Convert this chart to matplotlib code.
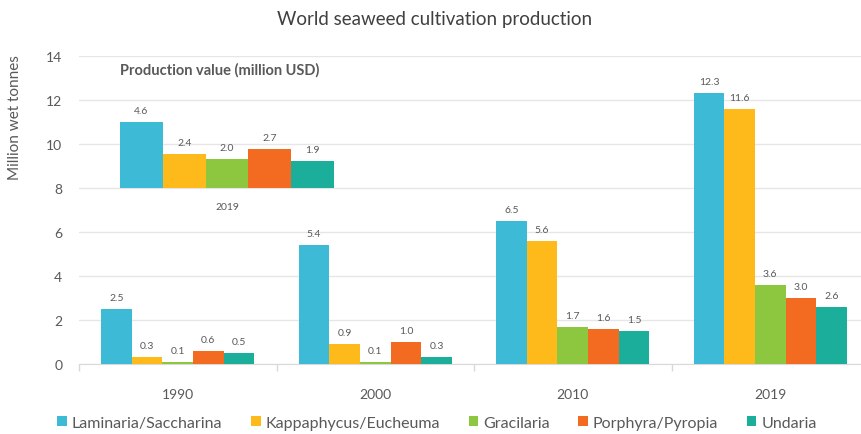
import numpy as np
import matplotlib
matplotlib.use("Agg")
import matplotlib.pyplot as plt
from matplotlib.patches import Patch

plt.rcParams['font.family'] = ['Lato', 'DejaVu Sans']

# data
years = ['1990', '2000', '2010', '2019']
species = ['Laminaria/Saccharina', 'Kappaphycus/Eucheuma', 'Gracilaria',
           'Porphyra/Pyropia', 'Undaria']
laminaria = [2.5, 5.4, 6.5, 12.3]
kappaphycus = [0.3, 0.9, 5.6, 11.6]
gracilaria = [0.1, 0.1, 1.7, 3.6]
porphyra = [0.6, 1.0, 1.6, 3.0]
undaria = [0.5, 0.3, 1.5, 2.6]
value_2019 = [4.6, 2.4, 2.0, 2.7, 1.9]  # production value, million USD

colors = ['#3DBAD6', '#FDBA1A', '#8DC63F', '#F36A21', '#1AAE9B']
text_col = '#595959'

series = [laminaria, kappaphycus, gracilaria, porphyra, undaria]

fig = plt.figure(figsize=(8.61, 4.35), dpi=100)
ax = fig.add_axes([79/861, 1 - 365/435, 790/861, 308/435])

x = np.arange(len(years))
bw = 0.155
for i, (vals, c) in enumerate(zip(series, colors)):
    pos = x + (i - 2) * bw
    bars = ax.bar(pos, vals, width=bw, color=c, zorder=3, linewidth=0)
    for b, v in zip(bars, vals):
        ax.annotate(f'{v:.1f}', (b.get_x() + b.get_width() / 2, v),
                    xytext=(0, 5), textcoords='offset points',
                    ha='center', va='bottom', fontsize=7.5, color=text_col)

ax.set_xlim(-0.5, 3.5)
ax.set_ylim(0, 14)
ax.set_yticks(range(0, 15, 2))
ax.set_xticks(x)
ax.set_xticklabels(years)
ax.set_xticks(np.arange(-0.5, 4, 1), minor=True)
ax.tick_params(axis='x', which='major', length=0, pad=17, labelsize=10, labelcolor=text_col)
ax.tick_params(axis='x', which='minor', length=5, color='#D9D9D9', width=1)
ax.tick_params(axis='y', length=0, pad=12, labelsize=10, labelcolor=text_col)
ax.grid(axis='y', color='#E6E6E6', linewidth=1, zorder=0)
for s in ['top', 'right', 'left']:
    ax.spines[s].set_visible(False)
ax.spines['bottom'].set_color('#D9D9D9')

fig.text(15/861, 1 - 118/435, 'Million wet tonnes', rotation=90, ha='center',
         va='center', fontsize=11, color=text_col)
fig.text(435/861, 1 - 20/435, 'World seaweed cultivation production', ha='center',
         va='center', fontsize=13.5, color='#404040')

# inset: 2019 production value
ins = ax.inset_axes([-0.292, 8, 1.083, 3.25], transform=ax.transData)
ins.patch.set_alpha(0)
ipos = np.arange(len(value_2019))
ibars = ins.bar(ipos, value_2019, width=1.0, color=colors, linewidth=0)
for b, v in zip(ibars, value_2019):
    ins.annotate(f'{v:.1f}', (b.get_x() + b.get_width() / 2, v),
                 xytext=(0, 5), textcoords='offset points',
                 ha='center', va='bottom', fontsize=7.5, color=text_col)
ins.set_xlim(-0.5, 4.5)
ins.set_ylim(0, 5)
ins.axis('off')
ax.text(0.25, 7.18, '2019', ha='center', va='center', fontsize=7.5, color=text_col)
ax.text(-0.292, 13.4, 'Production value (million USD)', ha='left', va='center',
        fontsize=10.5, fontweight='bold', color=text_col)

handles = [Patch(facecolor=c, edgecolor='none') for c in colors]
fig.legend(handles, species, loc='center', bbox_to_anchor=(437/861, 1 - 424/435),
           ncol=5, frameon=False, fontsize=11.5, handlelength=0.6, handleheight=0.6,
           handletextpad=0.3, columnspacing=1.8, labelcolor=text_col)

fig.savefig('out.png', dpi=100)
